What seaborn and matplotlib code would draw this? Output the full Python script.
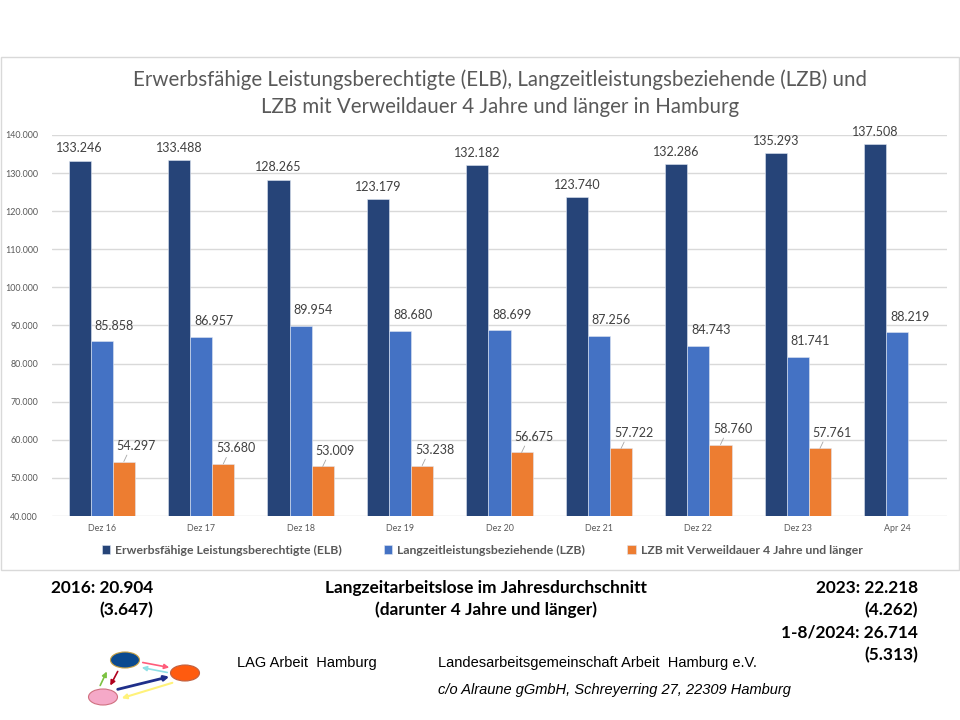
import matplotlib
matplotlib.use("Agg")

import numpy as np
import pandas as pd
import matplotlib.pyplot as plt
import seaborn as sns
from matplotlib.patches import Rectangle, Ellipse, FancyArrowPatch

# ======================
# DATA
# ======================
monate = ["Dez 16", "Dez 17", "Dez 18", "Dez 19", "Dez 20",
          "Dez 21", "Dez 22", "Dez 23", "Apr 24"]
elb = [133246, 133488, 128265, 123179, 132182, 123740, 132286, 135293, 137508]
lzb = [85858, 86957, 89954, 88680, 88699, 87256, 84743, 81741, 88219]
lzb4 = [54297, 53680, 53009, 53238, 56675, 57722, 58760, 57761, np.nan]

serien = ["Erwerbsfähige Leistungsberechtigte (ELB)",
          "Langzeitleistungsbeziehende (LZB)",
          "LZB mit Verweildauer 4 Jahre und länger"]
farben = ["#264478", "#4472C4", "#ED7D31"]

y_ticks = [40000, 50000, 60000, 70000, 80000, 90000, 100000,
           110000, 120000, 130000, 140000]

titel = ["Erwerbsfähige Leistungsberechtigte (ELB), Langzeitleistungsbeziehende (LZB) und",
         "LZB mit Verweildauer 4 Jahre und länger in Hamburg"]

links_text = ["2016: 20.904", "(3.647)"]
mitte_text = ["Langzeitarbeitslose im Jahresdurchschnitt",
              "(darunter 4 Jahre und länger)"]
rechts_text = ["2023: 22.218", "(4.262)", "1-8/2024: 26.714", "(5.313)"]

df = pd.DataFrame({
    "Monat": monate * 3,
    "Serie": [serien[0]] * 9 + [serien[1]] * 9 + [serien[2]] * 9,
    "Wert": elb + lzb + lzb4,
}).dropna()


def de(v):
    return f"{v:,.0f}".replace(",", ".")


def px(x, y):
    # Pixel (von oben links) -> Figure-Koordinaten
    return (x / 960, 1 - y / 720)


# ======================
# PLOT
# ======================
sns.set_theme(style="white")
plt.rcParams["font.family"] = ["Lato", "DejaVu Sans"]

fig = plt.figure(figsize=(9.6, 7.2), dpi=100)
ax = fig.add_axes([52 / 960, 1 - 516 / 720, (947 - 52) / 960, (516 - 135) / 720])

sns.barplot(data=df, x="Monat", y="Wert", hue="Serie", order=monate,
            hue_order=serien, palette=farben, width=0.667, gap=0,
            errorbar=None, saturation=1, edgecolor="#dfe6f2", linewidth=0.4,
            ax=ax)

ax.set_ylim(40000, 140000)
ax.set_yticks(y_ticks)
ax.set_yticklabels([de(t) for t in y_ticks])
ax.set_xlim(-0.5, len(monate) - 0.5)
ax.set_xlabel("")
ax.set_ylabel("")
ax.grid(axis="y", color="#D9D9D9", lw=1)
ax.set_axisbelow(True)
for s in ax.spines.values():
    s.set_visible(False)
ax.tick_params(axis="both", length=0, labelsize=6.4, colors="#595959", pad=6)
ax.tick_params(axis="y", pad=10)

# Datenbeschriftungen
for i, cont in enumerate(ax.containers):
    for bar in cont:
        h = bar.get_height()
        if np.isnan(h):
            continue
        xc = bar.get_x() + bar.get_width() / 2
        if i == 0:
            ax.annotate(de(h), (xc, h), xytext=(0, 4.5), textcoords="offset points",
                        ha="center", va="bottom", fontsize=9, color="#404040")
        else:
            arrow = None
            if i == 2:
                arrow = dict(arrowstyle="-", color="#a6a6a6", lw=0.6,
                             shrinkA=0, shrinkB=0, relpos=(0.3, 0))
            ax.annotate(de(h), (xc, h), xytext=(9, 7), textcoords="offset points",
                        ha="center", va="bottom", fontsize=9, color="#404040",
                        arrowprops=arrow, annotation_clip=False)

# Legende
handles, labels = ax.get_legend_handles_labels()
leg = ax.legend(handles, labels, loc="center", bbox_to_anchor=px(482, 550),
                bbox_transform=fig.transFigure, ncol=3, frameon=False,
                prop={"size": 8.8, "weight": "bold"}, handlelength=0.72,
                handleheight=0.72, handletextpad=0.4, columnspacing=3.4,
                labelcolor="#595959")

# Titel
fig.text(*px(500, 80), titel[0], ha="center", va="center", fontsize=14.8, color="#595959")
fig.text(*px(500, 107), titel[1], ha="center", va="center", fontsize=14.8, color="#595959")

# Rahmen des Diagramms
fig.add_artist(Rectangle(px(1, 570), 958 / 960, 513 / 720, transform=fig.transFigure,
                         fill=False, edgecolor="#D9D9D9", lw=1))

# ======================
# FUSSZEILE
# ======================
zeilen_y = [588, 610, 632, 655]
for t, y in zip(links_text, zeilen_y):
    fig.text(*px(153, y), t, ha="right", va="center", fontsize=12.4,
             fontweight="bold", color="black")
for t, y in zip(mitte_text, zeilen_y):
    fig.text(*px(486, y), t, ha="center", va="center", fontsize=12.4,
             fontweight="bold", color="black")
for t, y in zip(rechts_text, zeilen_y):
    fig.text(*px(918, y), t, ha="right", va="center", fontsize=12.4,
             fontweight="bold", color="black")

narrow = ["Liberation Sans Narrow", "Liberation Sans"]
fig.text(*px(237, 663), "LAG Arbeit  Hamburg", ha="left", va="center",
         fontsize=10.5, family=narrow, color="black")
fig.text(*px(438, 663), "Landesarbeitsgemeinschaft Arbeit  Hamburg e.V.", ha="left",
         va="center", fontsize=10.5, family=narrow, color="black")
fig.text(*px(438, 690), "c/o Alraune gGmbH, Schreyerring 27, 22309 Hamburg", ha="left",
         va="center", fontsize=10.5, family=narrow, style="italic", color="black")

# Logo
pfeile = [
    ((140, 662), (172, 668), "#ff5c7a", 1.2),
    ((170, 673), (139, 667), "#8fe0e6", 1.2),
    ((115, 690), (172, 676), "#1f2f8a", 2.0),
    ((175, 682), (119, 699), "#fff27a", 1.5),
    ((99, 688), (108, 669), "#7cc242", 1.2),
    ((119, 669), (109, 688), "#b0001e", 1.2),
]
for a, b, c, lw in pfeile:
    fig.add_artist(FancyArrowPatch(px(*a), px(*b), transform=fig.transFigure,
                                   arrowstyle="-|>", mutation_scale=7, color=c, lw=lw))

kreise = [((125, 660), "#0b4a8f", "#c8a040"),
          ((185, 673), "#ff5b0f", "#c06040"),
          ((103, 697), "#f5a9c8", "#d07080")]
for (x, y), fc, ec in kreise:
    fig.add_artist(Ellipse(px(x, y), 29 / 960, 16 / 720, transform=fig.transFigure,
                           facecolor=fc, edgecolor=ec, lw=0.8))

fig.savefig("out.png", dpi=100, facecolor="white")
